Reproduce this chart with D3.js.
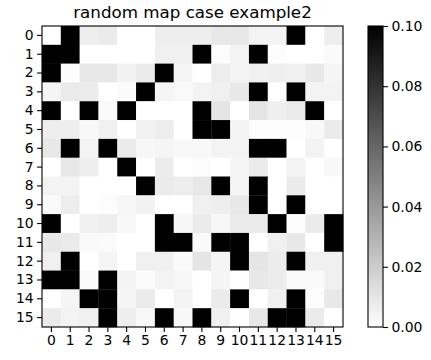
<!DOCTYPE html>
<html>
<head>
<meta charset="utf-8">
<script src="https://cdn.jsdelivr.net/npm/d3@7"></script>
<style>
  body { margin: 0; background: #fff; }
  svg { display: block; font-family: "DejaVu Sans", sans-serif; }
</style>
</head>
<body>
<div id="chart"></div>
<script>
// Heatmap values, row by row (row 0 at top)
const values = [
  [0, .1, .0067, .0078, 0, 0, .0067, .0067, .0067, .009, .009, .0047, .0047, .1, 0, .0067],
  [.1, .1, 0, 0, 0, 0, .0059, .0059, .1, .0012, .0047, .1, .0008, 0, 0, .002],
  [.1, .0008, .009, .009, .0051, .0078, .1, .0039, 0, .0071, .0047, .0059, .0063, .0059, .009, .0039],
  [.0039, .0082, .0075, 0, .0016, .1, .0039, .0024, .0047, .0059, .009, .1, 0, .1, .0047, .0047],
  [.1, 0, .1, .002, .1, 0, 0, 0, .1, .0102, 0, .0102, .0063, .0078, .1, 0],
  [.0067, .0067, .0027, .0059, 0, .0051, .0071, 0, .1, .1, .0047, .0008, .0008, .0008, .0027, .0078],
  [.009, .1, .0047, .1, .0078, .0031, .0039, .0027, .0027, .0047, .0047, .1, .1, 0, .0047, 0],
  [0, .009, .0067, 0, .1, 0, .0075, 0, .0012, 0, .0039, .0078, 0, .0047, 0, .0027],
  [.0047, .0047, 0, 0, 0, .1, .0078, .0067, .0095, .1, .0039, .1, 0, .0078, 0, 0],
  [.002, .0071, 0, .0012, .0031, .0051, 0, 0, .0059, .0067, .009, .1, 0, .1, 0, 0],
  [.1, 0, .0059, .0067, .0027, 0, .1, .0031, .0078, .0031, .0078, .0078, .1, .0008, .0078, .1],
  [.009, .0078, .002, .0016, 0, 0, .1, .1, .002, .1, .1, 0, .0059, .009, 0, .1],
  [.0059, .1, 0, .0039, 0, .0059, .0059, .002, .0102, .0039, .1, .0102, .0075, .1, .0059, .0059],
  [.1, .1, .002, .1, .0047, .0016, .0047, .0031, 0, .0039, 0, .009, .0075, .002, .002, .0059],
  [0, .0039, .1, .1, .0039, .0078, 0, .0047, 0, .0078, .1, 0, .0059, .1, .0012, .009],
  [.0078, .0047, .0059, .1, .0067, .0027, .1, .0027, .1, .0059, 0, .009, .1, .1, .0078, 0]
]
const rowLabels = d3.range(16)
const colLabels = d3.range(16)
const cbarTicks = [0, 0.02, 0.04, 0.06, 0.08, 0.10]
const vmin = 0, vmax = 0.1
const title = "random map case example2"

const width = 431, height = 360
const plot = {left: 42, top: 26, size: 301}
const cbar = {left: 368, width: 15}

const svg = d3.select("#chart").append("svg")
    .attr("width", width)
    .attr("height", height)

// gray_r colormap
const color = d3.scaleLinear().domain([vmin, vmax]).range(["#ffffff", "#000000"]).clamp(true)

const x = d3.scaleBand().domain(colLabels).range([plot.left, plot.left + plot.size])
const y = d3.scaleBand().domain(rowLabels).range([plot.top, plot.top + plot.size])

const cells = values.flatMap((row, i) => row.map((v, j) => ({r: i, c: j, v: v})))

svg.append("g")
    .selectAll("rect")
    .data(cells).enter()
    .append("rect")
      .attr("x", d => x(d.c))
      .attr("y", d => y(d.r))
      .attr("width", x.bandwidth() + 0.3)
      .attr("height", y.bandwidth() + 0.3)
      .attr("fill", d => color(d.v))

// Frame
svg.append("rect")
    .attr("x", plot.left)
    .attr("y", plot.top)
    .attr("width", plot.size)
    .attr("height", plot.size)
    .attr("fill", "none")
    .attr("stroke", "#000")
    .attr("stroke-width", 1.1)

function styleAxis(g) {
  g.select(".domain").remove()
  g.selectAll(".tick line").attr("stroke", "#000").attr("stroke-width", 1.1)
  g.selectAll(".tick text").attr("fill", "#000").style("font-size", "13.9px")
    .style("font-family", "DejaVu Sans, sans-serif")
}

svg.append("g")
    .attr("transform", `translate(0,${plot.top + plot.size})`)
    .call(d3.axisBottom(x).tickSize(4.9).tickPadding(3.5))
    .call(styleAxis)

svg.append("g")
    .attr("transform", `translate(${plot.left},0)`)
    .call(d3.axisLeft(y).tickSize(4.9).tickPadding(3.5))
    .call(styleAxis)

// Title
svg.append("text")
    .attr("x", plot.left + plot.size / 2)
    .attr("y", 18)
    .attr("text-anchor", "middle")
    .style("font-size", "16.7px")
    .text(title)

// Colorbar
const cy = d3.scaleLinear().domain([vmin, vmax]).range([plot.top + plot.size, plot.top])

const grad = svg.append("defs").append("linearGradient")
    .attr("id", "cbar-grad")
    .attr("x1", 0).attr("y1", 1).attr("x2", 0).attr("y2", 0)
grad.append("stop").attr("offset", "0%").attr("stop-color", color(vmin))
grad.append("stop").attr("offset", "100%").attr("stop-color", color(vmax))

svg.append("rect")
    .attr("x", cbar.left)
    .attr("y", cy(vmax))
    .attr("width", cbar.width)
    .attr("height", cy(vmin) - cy(vmax))
    .attr("fill", "url(#cbar-grad)")
    .attr("stroke", "#000")
    .attr("stroke-width", 1.1)

svg.append("g")
    .attr("transform", `translate(${cbar.left + cbar.width},0)`)
    .call(d3.axisRight(cy).tickValues(cbarTicks).tickFormat(d3.format(".2f")).tickSize(4.9).tickPadding(3.5))
    .call(styleAxis)
</script>
</body>
</html>
